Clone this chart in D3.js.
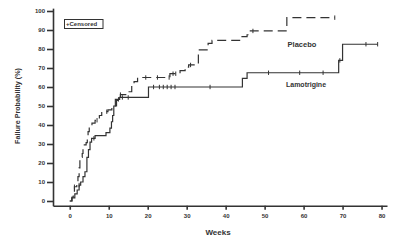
<!DOCTYPE html>
<html>
<head>
<meta charset="utf-8">
<script src="https://cdn.jsdelivr.net/npm/d3@7"></script>
<style>
  body { margin: 0; background: #fff; }
  text { font-family: "Liberation Sans", Arial, sans-serif; font-weight: bold; fill: #333; }
</style>
</head>
<body>
<div id="chart"></div>
<script>
// step points [week, failure %]
const placeboSteps = [
  [0, 0], [0.6, 2], [0.9, 3.7], [1.2, 7.5], [1.8, 9.5], [2.1, 12.8], [2.4, 17.4], [2.6, 23],
  [3.2, 25], [3.4, 29.5], [4.2, 30.7], [4.5, 34], [4.7, 36.5], [5.0, 39], [5.7, 41], [6.5, 42.5],
  [7.6, 45], [8.2, 47], [9.8, 48], [10.8, 50], [12, 53], [13, 56], [14.6, 57.5], [15.9, 61],
  [16.5, 62.8], [17.4, 65], [25.7, 67], [28.3, 68.6], [29.6, 70.5], [30.5, 71.6], [33, 79.5],
  [35.5, 83], [36.5, 84.5], [44, 86.5], [45.5, 87.5], [46, 89.5], [55.7, 96.5]
];
const placeboEnd = 68;
const placeboCensored = [1.2, 7, 9.5, 13, 19.5, 22.5, 25.5, 26.5, 27.2, 31, 47, 68];

const lamoSteps = [
  [0, 0], [0.5, 1.6], [1.3, 3.7], [1.9, 5.8], [2.4, 8.4], [2.8, 10], [3.4, 12.8], [3.9, 15.4],
  [4.4, 23], [4.8, 27], [5.2, 31], [5.6, 33], [6.5, 34.4], [9.3, 36], [10.3, 38.4], [10.7, 41.7],
  [11.0, 45], [11.3, 50], [11.7, 53.5], [12.8, 54.5], [20.2, 60], [44.3, 64.5], [45.5, 67.5],
  [69, 74], [70, 82.5]
];
const lamoEnd = 79;
const lamoCensored = [2.4, 6.2, 12.5, 13.5, 15, 21.5, 23, 24, 25, 26, 27, 36, 51, 59, 65, 69.3, 76, 79];

const yTicks = d3.range(0, 101, 10);
const xTicks = d3.range(0, 81, 10);

const width = 400, height = 241;
const svg = d3.select("#chart").append("svg")
  .attr("width", width)
  .attr("height", height);

const x = d3.scaleLinear().domain([-4.3, 81.4]).range([53, 387]);
const y = d3.scaleLinear().domain([-2.5, 101.5]).range([205.75, 8.15]);

// axes
const xAxis = svg.append("g")
  .attr("transform", `translate(0,${y(-2.5)})`)
  .call(d3.axisBottom(x).tickValues(xTicks).tickSize(4).tickSizeOuter(0).tickPadding(4));
const yAxis = svg.append("g")
  .attr("transform", `translate(${x(-4.3)},0)`)
  .call(d3.axisLeft(y).tickValues(yTicks).tickSize(6).tickSizeOuter(0).tickPadding(2));

[xAxis, yAxis].forEach(g => {
  g.select(".domain").attr("stroke", "#333").attr("stroke-width", 1.6);
  g.selectAll(".tick line").attr("stroke", "#333").attr("stroke-width", 1.6);
  g.selectAll(".tick text").attr("font-size", 6).attr("fill", "#333")
    .style("font-family", "'Liberation Sans', Arial, sans-serif").style("font-weight", "bold");
});

// step value lookup
function valueAt(steps, w) {
  let v = 0;
  steps.forEach(d => { if (d[0] <= w) v = d[1]; });
  return v;
}

const line = d3.line()
  .x(d => x(d[0]))
  .y(d => y(d[1]))
  .curve(d3.curveStepAfter);

function drawCurve(steps, end, censored, dash) {
  const pts = steps.concat([[end, steps[steps.length - 1][1]]]);
  svg.append("path")
    .attr("d", line(pts))
    .attr("fill", "none")
    .attr("stroke", "#333")
    .attr("stroke-width", 1.2)
    .attr("stroke-dasharray", dash);
  svg.selectAll(null)
    .data(censored)
    .enter().append("line")
    .attr("x1", d => x(d)).attr("x2", d => x(d))
    .attr("y1", d => y(valueAt(steps, d)) - 2.2)
    .attr("y2", d => y(valueAt(steps, d)) + 2.2)
    .attr("stroke", "#333")
    .attr("stroke-width", 1);
}

drawCurve(placeboSteps, placeboEnd, placeboCensored, "9,5");
drawCurve(lamoSteps, lamoEnd, lamoCensored, null);

// curve labels
svg.append("text").attr("x", 302).attr("y", 46.5).attr("text-anchor", "middle")
  .attr("font-size", 7.5).text("Placebo");
svg.append("text").attr("x", 306).attr("y", 86.5).attr("text-anchor", "middle")
  .attr("font-size", 7).text("Lamotrigine");

// legend
svg.append("rect")
  .attr("x", 64.5).attr("y", 19.5).attr("width", 38.5).attr("height", 9)
  .attr("fill", "none").attr("stroke", "#333").attr("stroke-width", 1);
svg.append("text").attr("x", 66).attr("y", 26.3).attr("font-size", 6).text("+Censored");

// axis titles
svg.append("text").attr("x", 218).attr("y", 234.5).attr("text-anchor", "middle")
  .attr("font-size", 8).text("Weeks");
svg.append("text")
  .attr("transform", "translate(19.5,106) rotate(-90)")
  .attr("text-anchor", "middle")
  .attr("font-size", 7.2)
  .text("Failure Probability (%)");
</script>
</body>
</html>
